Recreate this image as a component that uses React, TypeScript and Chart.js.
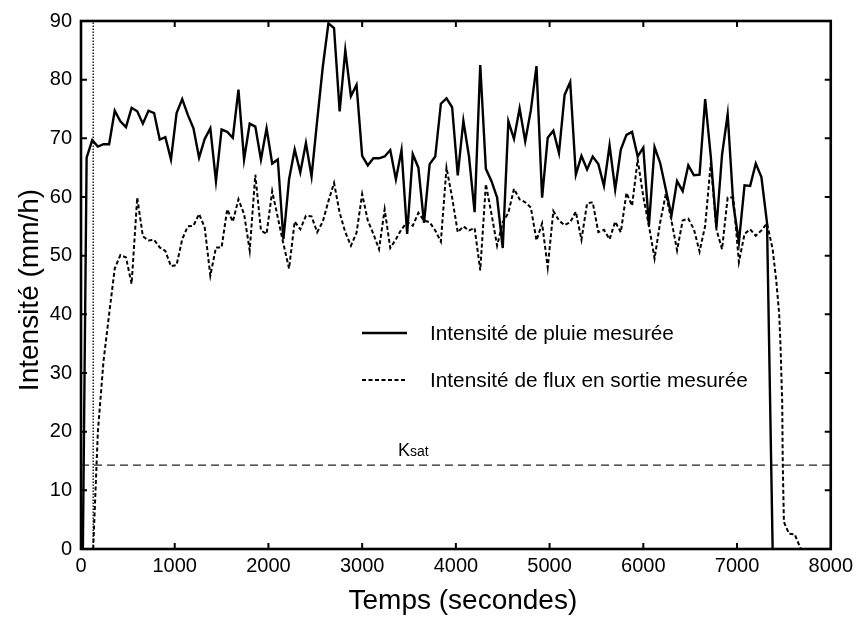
import React, { useEffect, useRef } from 'react';
import { Chart, registerables } from 'chart.js';

Chart.register(...registerables);

// Rain intensity measured (mm/h) vs time (s)
const rainTimes = [20, 60, 120, 180, 240, 300, 360, 420, 480, 540, 600, 660, 720, 780, 840, 900, 960, 1020, 1080, 1140, 1200, 1260, 1320, 1380, 1440, 1500, 1560, 1620, 1680, 1740, 1800, 1860, 1920, 1980, 2040, 2100, 2160, 2220, 2280, 2340, 2400, 2460, 2520, 2580, 2640, 2700, 2760, 2820, 2880, 2940, 3000, 3060, 3120, 3180, 3240, 3300, 3360, 3420, 3480, 3540, 3600, 3660, 3720, 3780, 3840, 3900, 3960, 4020, 4080, 4140, 4200, 4260, 4320, 4380, 4440, 4500, 4560, 4620, 4680, 4740, 4800, 4860, 4920, 4980, 5040, 5100, 5160, 5220, 5280, 5340, 5400, 5460, 5520, 5580, 5640, 5700, 5760, 5820, 5880, 5940, 6000, 6060, 6120, 6180, 6240, 6300, 6360, 6420, 6480, 6540, 6600, 6660, 6720, 6780, 6840, 6900, 6960, 7020, 7080, 7140, 7200, 7260, 7320, 7380];
const rainValues = [0, 66.7, 69.7, 68.6, 69.0, 69.0, 74.7, 72.9, 71.9, 75.2, 74.6, 72.5, 74.7, 74.3, 69.8, 70.2, 66.4, 74.3, 76.7, 74.0, 71.7, 66.7, 69.9, 71.7, 62.7, 71.5, 71.1, 70.1, 78.3, 66.4, 72.5, 72.0, 66.4, 71.7, 65.7, 66.4, 52.8, 63.0, 68.1, 64.2, 69.2, 63.5, 73.0, 82.2, 89.6, 88.8, 74.6, 85.0, 77.2, 79.1, 67.0, 65.4, 66.6, 66.6, 66.9, 68.0, 63.0, 68.0, 53.7, 67.3, 65.0, 55.6, 65.6, 66.9, 75.9, 76.8, 75.3, 63.7, 73.0, 66.9, 57.4, 82.5, 64.8, 62.7, 59.9, 51.3, 72.9, 69.9, 75.1, 69.5, 74.8, 82.3, 59.9, 70.1, 71.3, 67.5, 77.4, 79.6, 63.8, 67.0, 64.7, 66.9, 65.6, 61.9, 68.8, 61.3, 68.1, 70.6, 71.1, 66.9, 68.4, 55.1, 68.5, 65.8, 61.3, 56.8, 62.7, 61.0, 65.4, 63.7, 63.8, 76.7, 66.9, 54.8, 67.2, 74.1, 58.8, 52.3, 62.0, 61.9, 65.7, 63.4, 55.6, 0];

// Outflow intensity measured (mm/h) vs time (s)
const outflowTimes = [130, 180, 240, 300, 360, 420, 480, 540, 600, 660, 720, 780, 840, 900, 960, 1020, 1080, 1140, 1200, 1260, 1320, 1380, 1440, 1500, 1560, 1620, 1680, 1740, 1800, 1860, 1920, 1980, 2040, 2100, 2160, 2220, 2280, 2340, 2400, 2460, 2520, 2580, 2640, 2700, 2760, 2820, 2880, 2940, 3000, 3060, 3120, 3180, 3240, 3300, 3360, 3420, 3480, 3540, 3600, 3660, 3720, 3780, 3840, 3900, 3960, 4020, 4080, 4140, 4200, 4260, 4320, 4380, 4440, 4500, 4560, 4620, 4680, 4740, 4800, 4860, 4920, 4980, 5040, 5100, 5160, 5220, 5280, 5340, 5400, 5460, 5520, 5580, 5640, 5700, 5760, 5820, 5880, 5940, 6000, 6060, 6120, 6180, 6240, 6300, 6360, 6420, 6480, 6540, 6600, 6660, 6720, 6780, 6840, 6900, 6960, 7020, 7080, 7140, 7200, 7260, 7320, 7380, 7420, 7450, 7465, 7475, 7482, 7488, 7500, 7555, 7615, 7680];
const outflowValues = [0, 20, 32, 40, 47.8, 50.1, 49.7, 45.2, 59.9, 53.3, 52.6, 52.7, 51.4, 50.8, 48.2, 48.4, 52.8, 55.0, 55.1, 57.1, 54.8, 46.6, 51.4, 51.4, 57.9, 55.8, 59.6, 57.1, 50.9, 63.8, 54.3, 53.7, 61.0, 56.5, 52.0, 47.8, 55.8, 54.5, 56.8, 56.7, 54.0, 55.8, 59.3, 62.4, 57.3, 54.0, 51.7, 53.9, 60.5, 56.0, 53.7, 51.1, 57.9, 51.3, 52.8, 54.5, 55.7, 55.1, 57.3, 56.0, 55.7, 54.3, 52.4, 65.0, 59.9, 54.0, 55.0, 54.3, 54.7, 47.5, 62.2, 57.1, 51.7, 55.7, 57.3, 61.4, 59.6, 59.1, 58.2, 52.6, 55.5, 48.0, 57.6, 56.0, 55.2, 55.7, 57.5, 52.7, 58.9, 59.1, 54.0, 54.4, 52.8, 55.8, 54.0, 60.7, 58.5, 66.4, 60.0, 55.1, 49.5, 55.7, 60.5, 56.0, 50.9, 56.0, 56.3, 54.5, 50.7, 55.1, 65.8, 54.5, 51.1, 59.9, 59.9, 48.9, 53.7, 54.5, 53.4, 54.3, 55.5, 51.1, 45.5, 40, 34.2, 28.6, 25, 14.5, 4.6, 2.6, 2.5, 0];

const ksatValue = 14.3;
const startMarkerTime = 130;
const xRange = [0, 8000];
const yRange = [0, 90];
const xStep = 1000;
const yStep = 10;

const seriesLabels = ['Intensité de pluie mesurée', 'Intensité de flux en sortie mesurée'];
const ksatMain = 'K';
const ksatSub = 'sat';
const xTitle = 'Temps (secondes)';
const yTitle = 'Intensité (mm/h)';

const FONT = '"Liberation Sans", Arial, Helvetica, sans-serif';

const zip = (xs: number[], ys: number[]) => xs.map((x, i) => ({ x, y: ys[i] }));

const decorPlugin = {
  id: 'decor',
  afterDatasetsDraw(chart: any) {
    const { ctx, chartArea, scales } = chart;
    const { left, right, top, bottom } = chartArea;
    const xs = scales.x;
    const ys = scales.y;
    ctx.save();
    ctx.strokeStyle = '#000';
    ctx.setLineDash([]);
    // inward ticks
    ctx.lineWidth = 2;
    const tl = 6;
    xs.ticks.forEach((t: any) => {
      const px = xs.getPixelForValue(t.value);
      if (px <= left + 2 || px >= right - 2) return;
      ctx.beginPath();
      ctx.moveTo(px, bottom);
      ctx.lineTo(px, bottom - tl);
      ctx.moveTo(px, top);
      ctx.lineTo(px, top + tl);
      ctx.stroke();
    });
    ys.ticks.forEach((t: any) => {
      const py = ys.getPixelForValue(t.value);
      if (py <= top + 2 || py >= bottom - 2) return;
      ctx.beginPath();
      ctx.moveTo(left, py);
      ctx.lineTo(left + tl, py);
      ctx.moveTo(right, py);
      ctx.lineTo(right - tl, py);
      ctx.stroke();
    });
    // frame
    ctx.lineWidth = 2.6;
    ctx.strokeRect(left, top, right - left, bottom - top);

    // legend
    const lx0 = left + 281;
    const lx1 = left + 326;
    const ly1 = top + 312;
    const ly2 = top + 359;
    ctx.lineWidth = 2.3;
    ctx.beginPath();
    ctx.moveTo(lx0, ly1);
    ctx.lineTo(lx1, ly1);
    ctx.stroke();
    ctx.lineWidth = 2;
    ctx.setLineDash([4, 2.5]);
    ctx.beginPath();
    ctx.moveTo(lx0, ly2);
    ctx.lineTo(lx1, ly2);
    ctx.stroke();
    ctx.setLineDash([]);
    ctx.fillStyle = '#000';
    ctx.font = `20.8px ${FONT}`;
    ctx.textAlign = 'left';
    ctx.textBaseline = 'alphabetic';
    ctx.fillText(seriesLabels[0], left + 349, ly1 + 7);
    ctx.fillText(seriesLabels[1], left + 349, ly2 + 7);

    // Ksat label
    const kx = left + 317;
    const ky = ys.getPixelForValue(ksatValue) - 9;
    ctx.font = `18px ${FONT}`;
    ctx.fillText(ksatMain, kx, ky);
    const kw = ctx.measureText(ksatMain).width;
    ctx.font = `14px ${FONT}`;
    ctx.fillText(ksatSub, kx + kw, ky);

    // axis titles
    ctx.font = `28px ${FONT}`;
    ctx.textAlign = 'center';
    ctx.textBaseline = 'middle';
    ctx.fillText(xTitle, (left + right) / 2 + 7, 601);
    ctx.save();
    ctx.translate(30, (top + bottom) / 2 + 5);
    ctx.rotate(-Math.PI / 2);
    ctx.fillText(yTitle, 0, 0);
    ctx.restore();
    ctx.restore();
  },
};

export default function App() {
  const ref = useRef<HTMLCanvasElement | null>(null);
  useEffect(() => {
    document.body.style.margin = '0';
    const canvas = ref.current;
    if (!canvas) return;
    const chart = new Chart(canvas, {
      type: 'line',
      data: {
        datasets: [
          {
            label: seriesLabels[0],
            data: zip(rainTimes, rainValues),
            borderColor: '#000',
            borderWidth: 2.4,
            pointRadius: 0,
            tension: 0,
            fill: false,
          },
          {
            label: seriesLabels[1],
            data: zip(outflowTimes, outflowValues),
            borderColor: '#000',
            borderWidth: 2,
            borderDash: [4, 2.5],
            pointRadius: 0,
            tension: 0,
            fill: false,
          },
          {
            label: 'Ksat',
            data: [
              { x: xRange[0], y: ksatValue },
              { x: xRange[1], y: ksatValue },
            ],
            borderColor: '#222',
            borderWidth: 1.2,
            borderDash: [8, 5],
            pointRadius: 0,
            fill: false,
          },
          {
            label: 'start',
            data: [
              { x: startMarkerTime, y: yRange[0] },
              { x: startMarkerTime, y: yRange[1] },
            ],
            borderColor: '#000',
            borderWidth: 1.3,
            borderDash: [1.5, 1.5],
            pointRadius: 0,
            fill: false,
          },
        ],
      },
      options: {
        animation: false,
        responsive: false,
        maintainAspectRatio: false,
        devicePixelRatio: 1,
        layout: { padding: { top: 17, right: 27, left: 0, bottom: 0 } },
        plugins: { legend: { display: false }, tooltip: { enabled: false } },
        scales: {
          x: {
            type: 'linear',
            min: xRange[0],
            max: xRange[1],
            ticks: {
              stepSize: xStep,
              color: '#000',
              font: { family: FONT, size: 20 },
              padding: 5,
              maxRotation: 0,
              autoSkip: false,
              callback: (v: any) => String(v),
            },
            grid: { display: false, drawTicks: false },
            border: { display: false },
            title: { display: false },
            afterFit: (s: any) => {
              s.height = 68;
            },
          },
          y: {
            type: 'linear',
            min: yRange[0],
            max: yRange[1],
            ticks: {
              stepSize: yStep,
              color: '#000',
              font: { family: FONT, size: 20 },
              padding: 9,
              callback: (v: any) => String(v),
            },
            grid: { display: false, drawTicks: false },
            border: { display: false },
            title: { display: false },
            afterFit: (s: any) => {
              s.width = 81;
            },
          },
        },
      },
      plugins: [decorPlugin],
    });
    return () => chart.destroy();
  }, []);
  return (
    <div style={{ width: 858, height: 617 }}>
      <canvas ref={ref} width={858} height={617} style={{ display: 'block' }} />
    </div>
  );
}
